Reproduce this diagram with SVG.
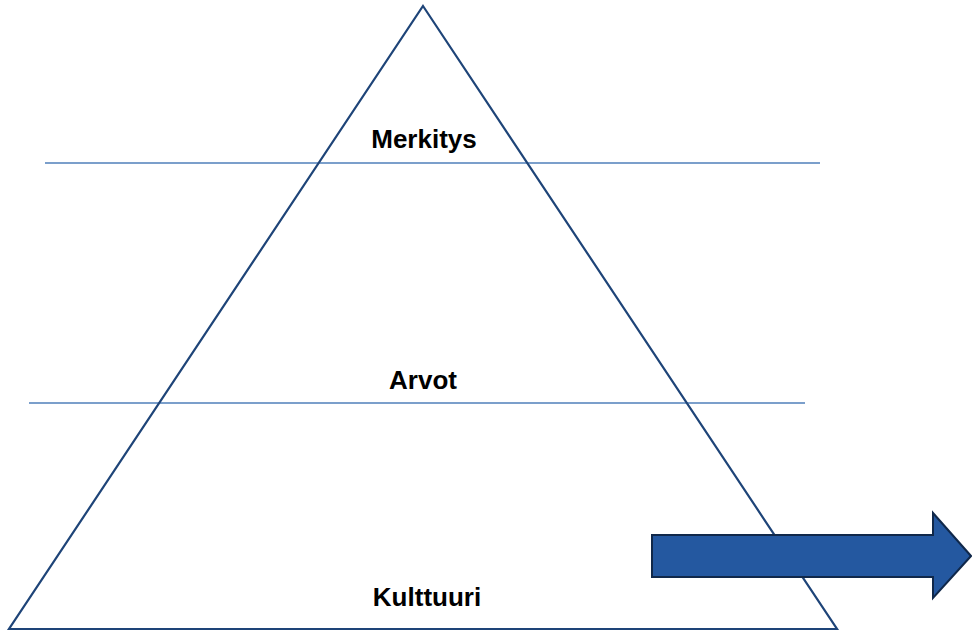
<svg xmlns="http://www.w3.org/2000/svg" width="972" height="633" viewBox="0 0 972 633">
<style>
.tri{fill:none;stroke:#1e4478;stroke-width:2.2;stroke-linejoin:miter}
.hl{stroke:#4f7fba;stroke-width:1.3}
.lbl{font-family:"Liberation Sans",Arial,sans-serif;font-weight:bold;font-size:26px;fill:#000;text-anchor:middle}
.arr{fill:#2458a0;stroke:#10284a;stroke-width:2}
</style>
<rect width="972" height="633" fill="#fff"/>
<g id="connectors">
<line class="hl" x1="45" y1="163" x2="820" y2="163"/>
<line class="hl" x1="29" y1="403" x2="805" y2="403"/>
</g>
<g id="pyramid">
<polygon class="tri" points="423,6 837,629 9,629"/>
</g>
<g id="merkitys"><text class="lbl" x="424" y="148">Merkitys</text></g>
<g id="arvot"><text class="lbl" x="423" y="389">Arvot</text></g>
<g id="kulttuuri"><text class="lbl" x="427" y="606">Kulttuuri</text></g>
<g id="arrow">
<polygon class="arr" points="652,535 933,535 933,513 971,556 933,598 933,577 652,577"/>
</g>
</svg>
